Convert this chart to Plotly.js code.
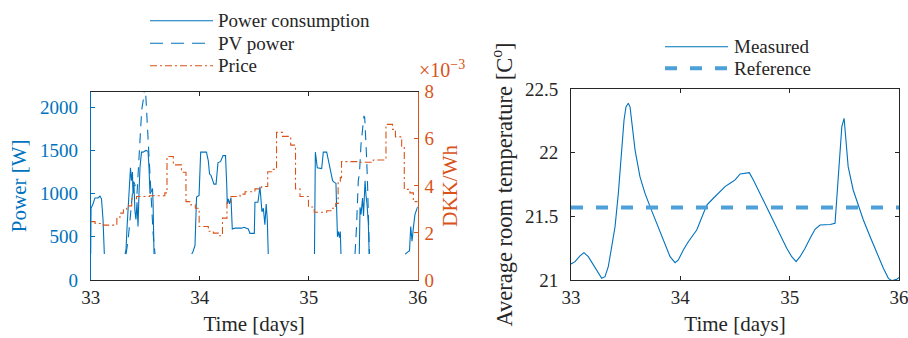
<!DOCTYPE html>
<html>
<head>
<meta charset="utf-8">
<script src="https://cdn.plot.ly/plotly-3.0.1.min.js"></script>
<style>
  html, body { margin: 0; padding: 0; background: #ffffff; }
  #chart { width: 908px; height: 338px; }
</style>
</head>
<body>
<div id="chart"></div>
<script>
// ---------- data ----------
// Power consumption [W] (null = gap where the curve leaves the visible band)
const powerT = [33.000,33.003,33.021,33.039,33.067,33.085,33.099,33.113,33.125,33.20,
  33.315,33.324,33.333,33.342,33.356,33.365,33.374,33.383,33.388,33.397,33.406,33.415,33.425,33.434,33.443,33.452,33.466,33.480,33.507,33.526,33.535,33.544,33.558,33.567,33.572,33.581,33.75,
  33.927,33.939,33.957,33.971,33.994,34.009,34.062,34.079,34.090,34.104,34.131,34.150,34.168,34.191,34.214,34.237,34.248,34.253,34.262,34.273,34.287,34.299,34.324,34.385,34.406,34.446,34.461,34.501,34.507,34.534,34.553,34.562,34.571,34.584,34.598,34.610,34.620,34.629,34.85,
  35.053,35.061,35.079,35.095,35.119,35.134,35.165,35.180,35.200,35.219,35.235,35.250,35.257,35.264,35.273,35.283,35.290,35.296,35.38,
  35.464,35.471,35.480,35.494,35.503,35.512,35.517,35.526,35.535,35.547,35.555,35.70,
  35.884,35.911,35.925,35.936,35.948,35.960,35.975,36.000];
const powerW = [300,830,880,950,950,970,940,700,300,null,
  300,350,600,800,1200,1300,1150,1250,1000,1100,800,700,900,620,1000,1300,1480,1480,1500,1490,1300,1000,1030,1060,900,300,null,
  300,330,400,960,980,1480,1480,1380,1230,1210,1110,1110,1360,1370,1440,1440,1100,880,940,880,950,590,600,600,610,590,540,540,900,900,1080,930,790,830,640,880,700,300,null,
  300,1480,1300,1295,1290,1480,1480,1390,1280,1150,1130,1120,800,500,560,490,560,300,null,
  300,840,760,950,740,1000,1150,980,880,660,300,null,
  300,320,340,620,450,600,760,850];

// PV power [W]
const pvT = [33.324,33.342,33.361,33.379,33.393,33.406,33.425,33.439,33.452,33.468,33.483,33.498,33.507,33.517,33.530,33.544,33.560,33.572,33.590,34.5,
  35.425,35.439,35.455,35.466,35.480,35.494,35.507,35.514,35.519,35.530,35.539,35.548,35.557];
const pvW = [300,450,700,1000,1140,1100,1000,1320,1700,1970,2090,2250,2100,1850,1600,1270,850,550,300,null,
  300,620,1150,1240,1570,1750,1900,1880,1650,1450,1150,700,300];

// Price [DKK/Wh x 1e-3], piecewise constant from each time stamp
const priceT = [33.000,33.040,33.115,33.240,33.268,33.300,33.330,33.376,33.420,33.540,33.680,33.700,33.758,33.833,33.874,33.920,33.960,33.995,
  34.079,34.125,34.170,34.209,34.250,34.287,34.370,34.416,34.507,34.569,34.624,34.661,34.705,34.760,34.835,34.879,34.920,34.998,
  35.051,35.165,35.211,35.248,35.270,35.290,35.301,35.471,35.593,35.709,35.769,35.796,35.853,35.877,35.929,35.960,36.000];
const priceMilli = [2.48,2.40,2.33,2.65,2.84,2.98,3.15,3.45,3.55,3.58,3.70,5.25,4.89,4.58,3.33,3.19,3.05,2.27,
  2.07,1.99,1.88,2.63,3.30,3.55,3.65,3.75,3.87,3.97,4.60,4.70,6.27,6.10,5.73,3.87,3.55,3.10,
  2.88,2.94,3.05,3.25,4.20,4.35,5.03,5.00,5.10,6.61,6.40,6.08,5.67,3.85,3.70,3.33,3.33];

// Average room temperature [C]
const tempT = [33.000,33.037,33.082,33.119,33.158,33.204,33.250,33.281,33.311,33.341,33.372,33.403,33.433,33.464,33.485,33.503,33.524,33.540,33.555,33.586,33.631,33.677,33.723,33.784,33.844,33.906,33.952,33.982,
  34.027,34.073,34.150,34.196,34.242,34.302,34.363,34.409,34.455,34.501,34.547,34.592,34.631,34.668,34.729,34.790,34.851,34.912,34.973,
  35.019,35.059,35.095,35.141,35.187,35.232,35.278,35.324,35.370,35.415,35.431,35.455,35.477,35.498,35.516,35.535,35.581,35.629,35.674,35.736,35.797,35.857,35.903,35.934,35.980,36.000];
const tempC = [21.126,21.144,21.189,21.215,21.183,21.118,21.053,21.013,21.026,21.105,21.26,21.42,21.68,21.995,22.257,22.36,22.388,22.36,22.23,22.02,21.81,21.68,21.576,21.445,21.314,21.183,21.136,21.157,
  21.236,21.30,21.393,21.497,21.589,21.642,21.69,21.733,21.76,21.786,21.833,21.838,21.843,21.786,21.681,21.576,21.458,21.353,21.249,
  21.183,21.144,21.183,21.249,21.327,21.398,21.432,21.432,21.436,21.445,21.654,21.969,22.204,22.27,22.10,21.89,21.707,21.576,21.471,21.34,21.21,21.092,21.013,20.995,21.005,21.02];
const refTemp = 21.57;

const dayTicks = [33, 34, 35, 36];
const powerTicks = [0, 500, 1000, 1500, 2000];
const priceTicks = [0, 2, 4, 6, 8];
const tempTicks = [21, 21.5, 22, 22.5];
const tempTickText = ['21', '21.5', '22', '22.5'];

const legendLeft = ['Power consumption', 'PV power', 'Price'];
const legendRight = ['Measured', 'Reference'];

// ---------- styling ----------
const BLUE = '#0072BD', ORANGE = '#D95319', REFBLUE = '#4DA0D8', AX = '#262626';
const FONT = 'Liberation Serif';
const W = 908, H = 338;
const px = v => v / W;          // pixel -> paper x
const py = v => 1 - v / H;      // pixel -> paper y

const traces = [
  {x: powerT, y: powerW, xaxis: 'x', yaxis: 'y', mode: 'lines', name: legendLeft[0],
   line: {color: BLUE, width: 1.1}, connectgaps: false},
  {x: pvT, y: pvW, xaxis: 'x', yaxis: 'y', mode: 'lines', name: legendLeft[1],
   line: {color: BLUE, width: 1.1, dash: '10px,7px'}, connectgaps: false},
  {x: priceT, y: priceMilli, xaxis: 'x', yaxis: 'y2', mode: 'lines', name: legendLeft[2],
   line: {color: ORANGE, width: 1.1, shape: 'hv', dash: '7px,3px,2px,3px'}},
  {x: tempT, y: tempC, xaxis: 'x2', yaxis: 'y3', mode: 'lines', name: legendRight[0],
   line: {color: BLUE, width: 1.1}},
  {x: [tempT[0], tempT[tempT.length - 1]], y: [refTemp, refTemp], xaxis: 'x2', yaxis: 'y3', mode: 'lines', name: legendRight[1],
   line: {color: REFBLUE, width: 4, dash: '12px,13px'}}
];

const FS = 19;
const TS = 21;
const tickFont = {family: FONT, size: FS, color: AX};
const titleFont = {family: FONT, size: TS, color: AX};

const layout = {
  width: W, height: H,
  margin: {l: 0, r: 0, t: 0, b: 0},
  paper_bgcolor: '#ffffff', plot_bgcolor: '#ffffff',
  showlegend: false,
  font: {family: FONT, size: FS, color: AX},
  xaxis: {
    domain: [px(90.7), px(417.7)], anchor: 'y', range: [33, 36],
    tickvals: dayTicks, ticks: 'inside', ticklen: 4, tickcolor: AX,
    showline: true, linecolor: AX, linewidth: 1, mirror: 'ticks',
    showgrid: false, zeroline: false, tickfont: tickFont, ticklabeloverflow: 'allow',
    title: {text: 'Time [days]', font: titleFont, standoff: 9}
  },
  yaxis: {
    domain: [py(280), py(91.7)], anchor: 'x', range: [0, 2180],
    tickvals: powerTicks, ticks: 'inside', ticklen: 4, tickcolor: BLUE,
    showline: true, linecolor: BLUE, linewidth: 1,
    showgrid: false, zeroline: false, tickfont: {family: FONT, size: FS, color: BLUE},
    ticklabelstandoff: 8, ticklabeloverflow: 'allow',
    title: {text: 'Power [W]', font: {family: FONT, size: TS, color: BLUE}, standoff: 7}
  },
  yaxis2: {
    overlaying: 'y', side: 'right', anchor: 'x', range: [0, 8],
    tickvals: priceTicks, ticks: 'inside', ticklen: 4, tickcolor: ORANGE,
    showline: true, linecolor: ORANGE, linewidth: 1,
    showgrid: false, zeroline: false, tickfont: {family: FONT, size: FS, color: ORANGE},
    ticklabelstandoff: 2, ticklabeloverflow: 'allow',
    title: {text: 'DKK/Wh', font: {family: FONT, size: TS, color: ORANGE}, standoff: 8}
  },
  xaxis2: {
    domain: [px(571), px(899)], anchor: 'y3', range: [33, 36],
    tickvals: dayTicks, ticks: 'inside', ticklen: 4, tickcolor: AX,
    showline: true, linecolor: AX, linewidth: 1, mirror: 'ticks',
    showgrid: false, zeroline: false, tickfont: tickFont, ticklabeloverflow: 'allow',
    title: {text: 'Time [days]', font: titleFont, standoff: 9}
  },
  yaxis3: {
    domain: [py(280), py(89)], anchor: 'x2', range: [21, 22.5],
    tickvals: tempTicks, ticktext: tempTickText, ticks: 'inside', ticklen: 4, tickcolor: AX,
    showline: true, linecolor: AX, linewidth: 1, mirror: 'ticks',
    showgrid: false, zeroline: false, tickfont: tickFont,
    ticklabelstandoff: 8, ticklabeloverflow: 'allow',
    title: {text: 'Average room temperature [C<sup>o</sup>]', font: {family: FONT, size: 22.5, color: AX}, standoff: 6}
  },
  annotations: [
    {xref: 'paper', yref: 'paper', x: px(417), y: py(69), xanchor: 'left', yanchor: 'middle',
     text: '×10<sup>−3</sup>', showarrow: false, font: {family: FONT, size: 20, color: ORANGE}},
    // legend texts
    {xref: 'paper', yref: 'paper', x: px(216), y: py(20.7), xanchor: 'left', yanchor: 'middle',
     text: legendLeft[0], showarrow: false, font: {family: FONT, size: FS, color: AX}},
    {xref: 'paper', yref: 'paper', x: px(216), y: py(43.3), xanchor: 'left', yanchor: 'middle',
     text: legendLeft[1], showarrow: false, font: {family: FONT, size: FS, color: AX}},
    {xref: 'paper', yref: 'paper', x: px(216), y: py(65.7), xanchor: 'left', yanchor: 'middle',
     text: legendLeft[2], showarrow: false, font: {family: FONT, size: FS, color: AX}},
    {xref: 'paper', yref: 'paper', x: px(732), y: py(46.7), xanchor: 'left', yanchor: 'middle',
     text: legendRight[0], showarrow: false, font: {family: FONT, size: FS, color: AX}},
    {xref: 'paper', yref: 'paper', x: px(732), y: py(68.3), xanchor: 'left', yanchor: 'middle',
     text: legendRight[1], showarrow: false, font: {family: FONT, size: FS, color: AX}}
  ],
  shapes: [
    // legend samples
    {type: 'line', xref: 'paper', yref: 'paper', x0: px(150), x1: px(213), y0: py(20.7), y1: py(20.7),
     line: {color: BLUE, width: 1.1}},
    {type: 'line', xref: 'paper', yref: 'paper', x0: px(150), x1: px(213), y0: py(43.3), y1: py(43.3),
     line: {color: BLUE, width: 1.1, dash: '13px,8px'}},
    {type: 'line', xref: 'paper', yref: 'paper', x0: px(150), x1: px(213), y0: py(65.7), y1: py(65.7),
     line: {color: ORANGE, width: 1.1, dash: '7px,3px,2px,3px'}},
    {type: 'line', xref: 'paper', yref: 'paper', x0: px(665), x1: px(728), y0: py(46.7), y1: py(46.7),
     line: {color: BLUE, width: 1.1}},
    {type: 'line', xref: 'paper', yref: 'paper', x0: px(665), x1: px(728), y0: py(68.3), y1: py(68.3),
     line: {color: REFBLUE, width: 4, dash: '12px,13px'}}
  ]
};

Plotly.newPlot('chart', traces, layout, {staticPlot: true, displayModeBar: false});
</script>
</body>
</html>
